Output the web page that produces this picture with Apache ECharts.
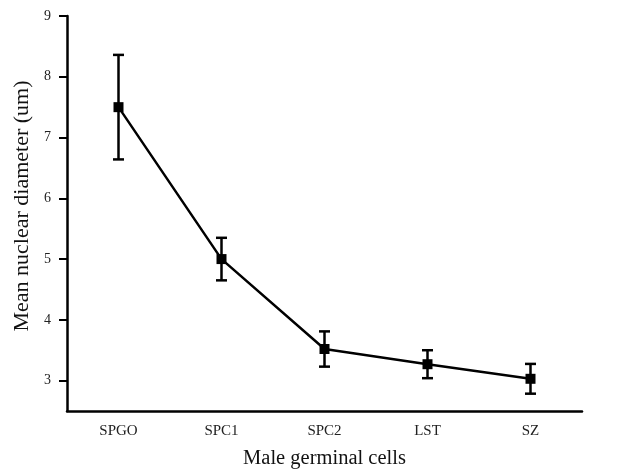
<!DOCTYPE html>
<html><head><meta charset="utf-8">
<script src="https://cdn.jsdelivr.net/npm/echarts@6/dist/echarts.min.js"></script>
<style>html,body{margin:0;padding:0;background:#fff}#c{width:620px;height:469px}</style>
</head><body><div id="c"></div>
<script>
const categories = ['SPGO', 'SPC1', 'SPC2', 'LST', 'SZ'];
const means = [7.50, 5.00, 3.52, 3.27, 3.03];
const errors = [0.86, 0.35, 0.29, 0.23, 0.245];
const yTicks = [3, 4, 5, 6, 7, 8, 9];

const chart = echarts.init(document.getElementById('c'));
const font = '"Liberation Serif", "Times New Roman", serif';
chart.setOption({
  backgroundColor: '#fff',
  animation: false,
  grid: { left: 67, right: 38, top: 16, bottom: 58, containLabel: false, outerBoundsMode: 'none' },
  graphic: [{
    type: 'text', x: 22, y: 206, rotation: Math.PI / 2,
    style: { text: 'Mean nuclear diameter (um)', fontFamily: font, fontSize: 22,
      fill: '#111', align: 'center', verticalAlign: 'middle' }
  }],
  xAxis: {
    type: 'category', data: categories, boundaryGap: true,
    name: 'Male germinal cells', nameLocation: 'middle', nameGap: 37,
    nameTextStyle: { fontFamily: font, fontSize: 20.5, color: '#111' },
    axisLine: { lineStyle: { color: '#000', width: 2.5 } },
    axisTick: { alignWithLabel: true, length: 8, lineStyle: { color: '#000', width: 2 } },
    axisLabel: { fontFamily: font, fontSize: 15, color: '#222', margin: 13 },
    splitLine: { show: false }
  },
  yAxis: {
    type: 'value', min: 2.5, max: 9,
    axisLine: { show: true, lineStyle: { color: '#000', width: 2.5 } },
    axisTick: { show: true, length: 8, lineStyle: { color: '#000', width: 2 }, customValues: yTicks },
    axisLabel: { fontFamily: font, fontSize: 14, color: '#222', margin: 16, customValues: yTicks },
    splitLine: { show: false }
  },
  series: [
    {
      type: 'custom',
      data: means.map((m, i) => [i, m - errors[i], m + errors[i]]),
      renderItem: function (params, api) {
        const lo = api.coord([api.value(0), api.value(1)]);
        const hi = api.coord([api.value(0), api.value(2)]);
        const hw = 5.5;
        const st = { stroke: '#000', lineWidth: 2.5 };
        return { type: 'group', children: [
          { type: 'line', shape: { x1: lo[0], y1: lo[1], x2: hi[0], y2: hi[1] }, style: st },
          { type: 'line', shape: { x1: lo[0] - hw, y1: lo[1], x2: lo[0] + hw, y2: lo[1] }, style: st },
          { type: 'line', shape: { x1: hi[0] - hw, y1: hi[1], x2: hi[0] + hw, y2: hi[1] }, style: st }
        ]};
      },
      z: 2
    },
    {
      type: 'line', data: means, symbol: 'rect', symbolSize: 10,
      lineStyle: { color: '#000', width: 2.5 },
      itemStyle: { color: '#000' }, z: 3
    }
  ]
});
</script></body></html>
